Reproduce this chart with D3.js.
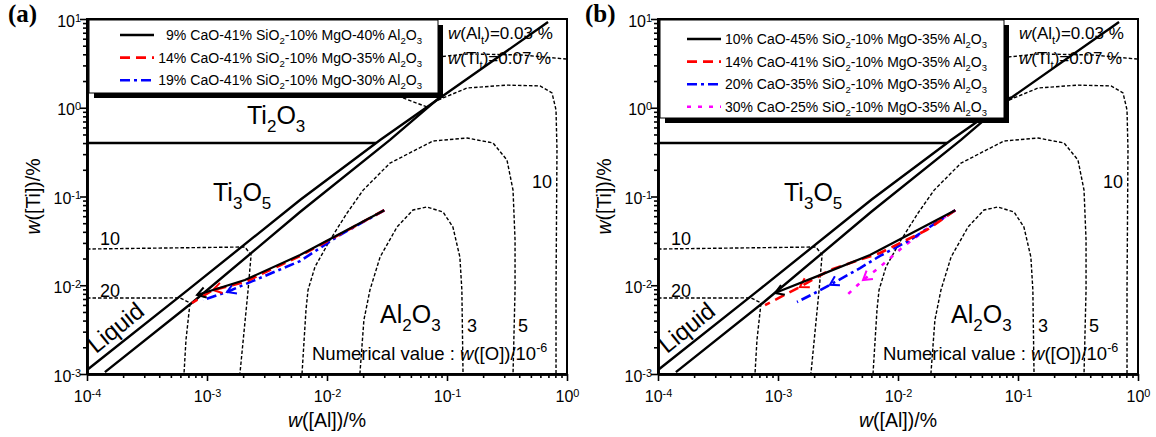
<!DOCTYPE html>
<html>
<head>
<meta charset="utf-8">
<script src="https://cdn.jsdelivr.net/npm/d3@7"></script>
<style>
  body { margin: 0; background: #fff; }
  svg { display: block; font-family: Arial, "Liberation Sans", sans-serif; }
</style>
</head>
<body>
<div id="chart"></div>
<script>
"use strict";

// Axis ticks (powers of ten)
const xTickExponents = [-4, -3, -2, -1, 0];
const yTickExponents = [-3, -2, -1, 0, 1];

// Phase boundaries, [w([Al]) %, w([Ti]) %]
const ti3o5LiquidLine = [[1e-4, 1.11e-3], [6.9e-4, 8.8e-3], [5.96e-3, 0.0914], [0.0277, 0.434], [0.695, 9.25]];
const liquidAl2o3Line = [[1.41e-4, 1.05e-3], [7.64e-4, 6.47e-3], [5.96e-3, 0.0668], [0.0335, 0.434], [0.0874, 1.32]];
const ti2o3Line = [[1e-4, 0.40], [0.0256, 0.40]];

// Iso-oxygen contours, w([O]) in 10^-6
const oxygen20 = [[1e-4, 7.18e-3], [5.96e-4, 7.2e-3], [7.22e-4, 6.31e-3], [6.68e-4, 2.42e-3], [6.43e-4, 1e-3]];
const oxygen10Left = [[1e-4, 0.0256], [2.07e-3, 0.027], [2.33e-3, 0.0219], [2.2e-3, 8.83e-3], [1.88e-3, 1e-3]];
const oxygen5 = [[6.19e-3, 1e-3], [6.68e-3, 5.26e-3], [6.95e-3, 8.83e-3], [7.94e-3, 0.0161], [0.0106, 0.0324],
  [0.0147, 0.0652], [0.02, 0.118], [0.0335, 0.238], [0.0764, 0.422], [0.147, 0.456], [0.242, 0.401],
  [0.316, 0.258], [0.355, 0.118], [0.369, 0.0324], [0.369, 8.83e-3], [0.355, 1e-3]];
const oxygen3 = [[0.0188, 1e-3], [0.0203, 4.05e-3], [0.0228, 8.83e-3], [0.0277, 0.0208], [0.0383, 0.0453],
  [0.0521, 0.0705], [0.0681, 0.0762], [0.0927, 0.0668], [0.112, 0.0453], [0.128, 0.0208], [0.133, 8.83e-3], [0.136, 1e-3]];
const oxygen10Right = [[0.0841, 1.22], [0.147, 1.67], [0.316, 1.80], [0.596, 1.76], [0.75, 1.47], [0.81, 0.944],
  [0.825, 0.334], [0.81, 8.83e-3], [0.81, 1e-3]];
const oxygenStub = [[0.043, 1.29], [0.0681, 1.02]];
const titaniumLine = [[0.0826, 3.73], [0.147, 4.04], [0.422, 3.93], [0.98, 3.54]];

// Panel (a) reaction paths
const pathA9 = [[0.03, 0.07], [5.96e-3, 0.0219], [2.07e-3, 0.01145], [8.26e-4, 7.76e-3]];
const pathA14 = [[0.03, 0.07], [5.96e-3, 0.0214], [2.07e-3, 0.0109], [1.12e-3, 8.83e-3], [7.5e-4, 6.31e-3]];
const pathA19 = [[0.03, 0.07], [0.0128, 0.0368], [5.96e-3, 0.0187], [2.42e-3, 0.0112], [1.47e-3, 8.4e-3], [9.26e-4, 6.82e-3]];
const legendA = [
  "9% CaO-41% SiO_{2}-10% MgO-40% Al_{2}O_{3}",
  "14% CaO-41% SiO_{2}-10% MgO-35% Al_{2}O_{3}",
  "19% CaO-41% SiO_{2}-10% MgO-30% Al_{2}O_{3}",
];
const arrowIndexA = [3, 3, 4];

// Panel (b) reaction paths
const pathB10 = [[0.03, 0.07], [5.84e-3, 0.0219], [2.24e-3, 0.0130], [9.44e-4, 8.18e-3]];
const pathB14 = [[0.03, 0.07], [0.0174, 0.042], [7.08e-3, 0.0231], [2.71e-3, 0.0149], [1.52e-3, 9.55e-3], [7.8e-4, 5.98e-3]];
const pathB20 = [[0.03, 0.07], [0.0126, 0.0324], [7.08e-3, 0.0214], [4.83e-3, 0.0156], [2.71e-3, 0.0101],
  [2.03e-3, 8.18e-3], [1.44e-3, 6.47e-3]];
const pathB30 = [[0.03, 0.07], [0.0178, 0.0442], [0.011, 0.027], [7.08e-3, 0.0161], [5.11e-3, 0.01145], [3.76e-3, 7.76e-3]];
const legendB = [
  "10% CaO-45% SiO_{2}-10% MgO-35% Al_{2}O_{3}",
  "14% CaO-41% SiO_{2}-10% MgO-35% Al_{2}O_{3}",
  "20% CaO-35% SiO_{2}-10% MgO-35% Al_{2}O_{3}",
  "30% CaO-25% SiO_{2}-10% MgO-35% Al_{2}O_{3}",
];
const arrowIndexB = [3, 4, 4, 4];

const SERIES_STYLES = [
  { color: "#000", dash: null, width: 2.2 },
  { color: "#f00", dash: "10,6", width: 2.6 },
  { color: "#00f", dash: "10,4,3,4", width: 2.6 },
  { color: "#f0f", dash: "4,7", width: 2.6 },
];

const PLOT_TOP = 19;
const PLOT_BOTTOM = 374;
const PLOT_WIDTH = 480;

function _main() {
  const svg = d3.select("#chart").append("svg").attr("width", 1156).attr("height", 437);

  drawPanel(svg, {
    left: 87, tag: "(a)", tagX: -79, showTi2O3: true,
    paths: [pathA9, pathA14, pathA19], legend: legendA, arrows: arrowIndexA,
    legendBox: { w: 349, h: 73, sampleX: 33, textStart: 71, textEnd: 335, row0: 35 },
  });
  drawPanel(svg, {
    left: 658, tag: "(b)", tagX: -73, showTi2O3: false,
    paths: [pathB10, pathB14, pathB20, pathB30], legend: legendB, arrows: arrowIndexB,
    legendBox: { w: 344, h: 98, sampleX: 29, textStart: 67, textEnd: 329, row0: 39 },
  });
}

// Text with _{sub}, ^{sup} and *italic* markup
function appendRich(text, str, size, supShift) {
  const parts = str.split(/(_\{[^}]*\}|\^\{[^}]*\}|\*[^*]*\*)/).filter((s) => s);
  let offset = 0;
  parts.forEach((p) => {
    let shift = 0;
    let content = p;
    let small = false;
    let italic = false;
    if (p.startsWith("_{")) {
      shift = size * 0.3; content = p.slice(2, -1); small = true;
    } else if (p.startsWith("^{")) {
      shift = -size * (supShift || 0.42); content = p.slice(2, -1); small = true;
    } else if (p.startsWith("*")) {
      italic = true; content = p.slice(1, -1);
    }
    const t = text.append("tspan").text(content);
    if (shift - offset !== 0) t.attr("dy", shift - offset);
    offset = shift;
    if (small) t.attr("font-size", size * 0.68);
    if (italic) t.attr("font-style", "italic");
  });
  return text;
}

function addLabel(g, x, y, str, size, anchor) {
  const t = g.append("text").attr("x", x).attr("y", y).attr("font-size", size)
    .attr("text-anchor", anchor || "start").attr("fill", "#000");
  return appendRich(t, str, size);
}

function drawPanel(svg, cfg) {
  const L = cfg.left;
  const xScale = d3.scaleLog().domain([1e-4, 1]).range([L, L + PLOT_WIDTH]);
  const yScale = d3.scaleLog().domain([1e-3, 10]).range([PLOT_BOTTOM, PLOT_TOP]);
  const g = svg.append("g");
  const line = d3.line().x((d) => xScale(d[0])).y((d) => yScale(d[1]));

  // Dashed iso-oxygen contours
  [oxygen20, oxygen10Left, oxygen5, oxygen3, oxygen10Right, oxygenStub, titaniumLine].forEach((c) => {
    g.append("path").datum(c).attr("d", line).attr("fill", "none")
      .attr("stroke", "#000").attr("stroke-width", 1.4).attr("stroke-dasharray", "3.5,2");
  });

  // Solid phase boundaries
  [ti3o5LiquidLine, liquidAl2o3Line, ti2o3Line].forEach((c) => {
    g.append("path").datum(c).attr("d", line).attr("fill", "none")
      .attr("stroke", "#000").attr("stroke-width", 2.4);
  });

  // Reaction paths, drawn last-to-first so black sits on top
  cfg.paths.map((p, i) => i).reverse().forEach((i) => {
    const st = SERIES_STYLES[i];
    g.append("path").datum(cfg.paths[i]).attr("d", line).attr("fill", "none")
      .attr("stroke", st.color).attr("stroke-width", st.width)
      .attr("stroke-dasharray", st.dash);
    addArrow(g, cfg.paths[i], cfg.arrows[i], xScale, yScale, st.color);
  });

  addAxes(g, xScale, yScale, L);
  addLegend(g, cfg, L);

  // Region and contour labels
  if (cfg.showTi2O3) addLabel(g, L + 160, 124, "Ti_{2}O_{3}", 25);
  addLabel(g, L + 126, 201, "Ti_{3}O_{5}", 25);
  addLabel(g, L + 293, 323, "Al_{2}O_{3}", 25);
  addLabel(g, L + 380, 332, "3", 18);
  addLabel(g, L + 431, 332, "5", 18);
  addLabel(g, L + 445, 188, "10", 18);
  addLabel(g, L + 13, 245, "10", 18);
  addLabel(g, L + 13, 297, "20", 18);
  addLabel(g, L + 225, 360, "Numerical value : *w*([O])/10^{-6}", 18.5);
  addLabel(g, L + 361, 39, "*w*(Al_{t})=0.03 %", 17);
  addLabel(g, L + 361, 64, "*w*(Ti_{t})=0.07 %", 17);
  g.append("text").attr("font-size", 24).attr("text-anchor", "middle")
    .attr("transform", `translate(${L + 34},${334}) rotate(-39)`).text("Liquid");

  // Panel tag
  g.append("text").attr("x", L + cfg.tagX).attr("y", 22).attr("font-size", 25)
    .attr("font-weight", "bold").attr("font-family", "'Liberation Serif', 'DejaVu Serif', serif")
    .text(cfg.tag);
}

function addArrow(g, pts, idx, xScale, yScale, color) {
  const tip = [xScale(pts[idx][0]), yScale(pts[idx][1])];
  const prev = [xScale(pts[idx - 1][0]), yScale(pts[idx - 1][1])];
  const ang = Math.atan2(tip[1] - prev[1], tip[0] - prev[0]);
  const len = 10;
  const wing = (a) => [tip[0] - len * Math.cos(ang + a), tip[1] - len * Math.sin(ang + a)];
  const w1 = wing(0.55);
  const w2 = wing(-0.55);
  g.append("path")
    .attr("d", `M${w1[0]},${w1[1]}L${tip[0]},${tip[1]}L${w2[0]},${w2[1]}`)
    .attr("fill", "none").attr("stroke", color).attr("stroke-width", 2);
}

function addAxes(g, xScale, yScale, L) {
  const xMajor = xTickExponents.map((e) => Math.pow(10, e));
  const yMajor = yTickExponents.map((e) => Math.pow(10, e));
  const isMajor = (v) => Math.abs(Math.log10(v) - Math.round(Math.log10(v))) < 1e-9;
  const xMinor = xScale.ticks(40).filter((v) => !isMajor(v));
  const yMinor = yScale.ticks(40).filter((v) => !isMajor(v));

  // Frame
  g.append("rect").attr("x", L).attr("y", PLOT_TOP).attr("width", PLOT_WIDTH)
    .attr("height", PLOT_BOTTOM - PLOT_TOP).attr("fill", "none")
    .attr("stroke", "#000").attr("stroke-width", 2);

  const styleAxis = (sel) => {
    sel.select(".domain").attr("stroke-width", 2.6);
    sel.selectAll(".tick line").attr("stroke-width", 1.6);
  };

  // Bottom x axis
  g.append("g").attr("transform", `translate(0,${PLOT_BOTTOM})`)
    .call(d3.axisBottom(xScale).tickValues(xMinor).tickSize(4).tickSizeOuter(0).tickFormat(""))
    .call(styleAxis);
  const xAxis = g.append("g").attr("transform", `translate(0,${PLOT_BOTTOM})`)
    .call(d3.axisBottom(xScale).tickValues(xMajor).tickSize(7).tickSizeOuter(0)
      .tickFormat((d) => Math.round(Math.log10(d))))
    .call(styleAxis);
  xAxis.selectAll(".tick text").each(function () {
    const t = d3.select(this);
    const e = t.text();
    t.text(null).attr("y", 28).attr("dy", null).attr("font-size", 16)
      .attr("font-family", "Arial, 'Liberation Sans', sans-serif").attr("fill", "#000");
    appendRich(t, `10^{${e}}`, 16, 0.34);
  });

  // Left y axis
  g.append("g").attr("transform", `translate(${L},0)`)
    .call(d3.axisLeft(yScale).tickValues(yMinor).tickSize(4).tickSizeOuter(0).tickFormat(""))
    .call(styleAxis);
  const yAxis = g.append("g").attr("transform", `translate(${L},0)`)
    .call(d3.axisLeft(yScale).tickValues(yMajor).tickSize(7).tickSizeOuter(0)
      .tickFormat((d) => Math.round(Math.log10(d))))
    .call(styleAxis);
  yAxis.selectAll(".tick text").each(function () {
    const t = d3.select(this);
    const e = t.text();
    t.text(null).attr("x", -6).attr("y", 7).attr("dy", null).attr("font-size", 16)
      .attr("font-family", "Arial, 'Liberation Sans', sans-serif").attr("fill", "#000");
    appendRich(t, `10^{${e}}`, 16, 0.3);
  });

  // Axis titles
  addLabel(g, L + PLOT_WIDTH / 2, 427, "*w*([Al])/%", 19.5, "middle");
  const yt = g.append("text").attr("font-size", 19.5).attr("text-anchor", "middle")
    .attr("transform", `translate(${L - 47},${(PLOT_TOP + PLOT_BOTTOM) / 2}) rotate(-90)`);
  appendRich(yt, "*w*([Ti])/%", 19.5);
}

function addLegend(g, cfg, L) {
  const box = cfg.legendBox;
  const x0 = L + 2;
  const y0 = PLOT_TOP + 1;
  g.append("rect").attr("x", x0 + 5).attr("y", y0 + 5).attr("width", box.w).attr("height", box.h)
    .attr("fill", "#000");
  g.append("rect").attr("x", x0).attr("y", y0).attr("width", box.w).attr("height", box.h)
    .attr("fill", "#fff").attr("stroke", "#000").attr("stroke-width", 1);

  // Fit font size so the widest entry spans textStart..textEnd
  const probe = addLabel(g, 0, -50, cfg.legend[1], 14);
  const measured = probe.node().getComputedTextLength();
  probe.remove();
  const size = 14 * (box.textEnd - box.textStart) / measured;

  cfg.legend.forEach((label, i) => {
    const st = SERIES_STYLES[i];
    const y = box.row0 + i * 22.6;
    g.append("line").attr("x1", L + box.sampleX).attr("x2", L + box.sampleX + 34)
      .attr("y1", y).attr("y2", y).attr("stroke", st.color).attr("stroke-width", 2.6)
      .attr("stroke-dasharray", st.dash);
    addLabel(g, L + box.textEnd, y + 5, label, size, "end");
  });
}

_main();
</script>
</body>
</html>
